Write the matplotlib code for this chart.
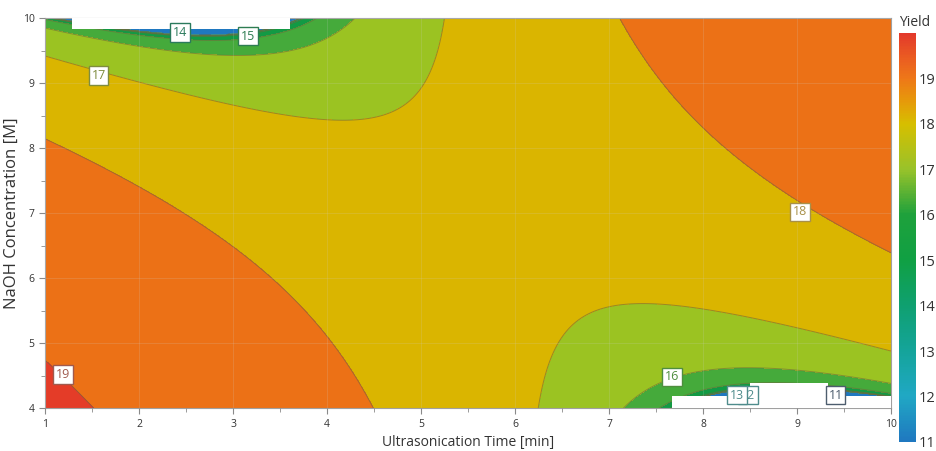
import matplotlib.pyplot as plt
import numpy as np
from matplotlib.cm import ScalarMappable
from matplotlib.colors import LinearSegmentedColormap, Normalize
from matplotlib.patches import Rectangle

plt.rcParams["font.family"] = ["Open Sans", "DejaVu Sans"]

# points (time [min], NaOH [M], yield)
trace_time = [
    1.0, 1.27, 1.55,
    1.0, 1.59, 2.12, 2.83, 3.61, 3.89, 4.17, 4.35, 4.46,
    7.09, 7.36, 7.65, 7.97, 8.47, 9.03, 9.6, 10.0,
    1.0, 1.94, 2.83, 3.36, 3.89, 4.43, 4.78, 5.06, 5.23, 5.35,
    6.15, 6.23, 6.37, 6.59, 6.94, 7.33, 7.83, 8.36, 9.06, 10.0,
    1.0, 2.01, 3.07, 3.79, 4.14, 4.38,
    7.09, 7.44, 7.79, 8.5, 9.21, 10.0,
    1.0, 1.77, 2.54, 3.26, 3.6, 3.85,
    7.86, 8.15, 8.85, 10.0,
    1.8, 2.6, 3.4,
    # colour read at the low corners
    1.0, 3.65, 7.9, 8.2, 10.0, 9.55,
]
trace_naoh = [
    4.85, 4.42, 4.0,
    8.16, 7.72, 7.31, 6.74, 6.02, 5.56, 4.94, 4.43, 4.0,
    10.0, 9.26, 8.64, 8.18, 7.56, 7.05, 6.64, 6.31,
    9.37, 9.03, 8.70, 8.56, 8.47, 8.49, 8.64, 9.01, 9.52, 10.0,
    4.0, 4.58, 5.0, 5.35, 5.56, 5.63, 5.59, 5.40, 5.2, 4.92,
    9.85, 9.57, 9.43, 9.51, 9.72, 10.0,
    4.0, 4.38, 4.55, 4.64, 4.6, 4.43,
    9.95, 9.81, 9.65, 9.63, 9.74, 10.0,
    4.2, 4.31, 4.35, 4.25,
    9.83, 9.8, 9.83,
    10.0, 10.0, 4.19, 4.19, 4.19, 4.22,
]
trace_yield = (
    [19] * 3 + [18] * 9 + [18] * 8 + [17] * 10 + [17] * 10
    + [16] * 6 + [16] * 6 + [15] * 6 + [15] * 4 + [14] * 3
    + [14.5, 14.6, 14.7, 14.2, 14.5, 11.5]
)

levels = [11, 12, 13, 14, 15, 16, 17, 18, 19]
band_colors = [
    "#1f78c0", "#1ca7c6", "#12a3a2", "#0f9e74", "#129a44",
    "#45aa3b", "#9bc322", "#dab500", "#ec7116", "#e43c28",
]

# colour scale of the legend bar
bar_stops = [
    (11.0, "#1f78c0"), (12.0, "#20a8c4"), (13.0, "#14a49a"),
    (14.0, "#0fa070"), (15.0, "#10a043"), (16.0, "#1ea13c"),
    (17.0, "#98c22a"), (18.0, "#d6bf00"), (18.5, "#e69a0a"),
    (19.0, "#ee7818"), (19.5, "#ea5a22"), (20.0, "#e3392b"),
]

label_levels = [19, 18, 17, 16, 15, 14, 12, 13, 11]
label_time = [1.19, 9.03, 1.57, 7.67, 3.16, 2.44, 8.48, 8.36, 9.41]
label_naoh = [4.52, 7.02, 9.12, 4.48, 9.72, 9.78, 4.2, 4.2, 4.2]
label_colors = {
    19: "#a05a4e", 18: "#a89048", 17: "#7e8c3e", 16: "#4f8e3e",
    15: "#2e7d52", 14: "#2a7a5c", 13: "#4f8c8c", 12: "#4f8c8c", 11: "#4d5d6e",
}

# cubic response surface on a power-transformed yield
ref, power = 19.0, 20.0


def terms(a, b):
    a = (np.asarray(a, float) - 5.5) / 4.5
    b = (np.asarray(b, float) - 7.0) / 3.0
    return np.stack([np.ones_like(a), a, b, a * a, a * b, b * b,
                     a ** 3, a * a * b, a * b * b, b ** 3], axis=-1)


resp = (np.asarray(trace_yield, float) / ref) ** power
# low-yield points sit where the transformed scale is flat, so lean on them a bit more
w = 1.0 / (resp + 0.08)
coef, *_ = np.linalg.lstsq(terms(trace_time, trace_naoh) * w[:, None], resp * w, rcond=None)

gx, gy = np.meshgrid(np.linspace(1, 10, 500), np.linspace(4, 10, 360))
surf = terms(gx, gy) @ coef
yield_grid = ref * np.clip(surf, 1e-8, None) ** (1.0 / power)

fig = plt.figure(figsize=(9.37, 4.51), dpi=100)
ax = fig.add_axes([0.048, 0.095, 0.903, 0.865])

ax.contourf(gx, gy, yield_grid, levels=[0] + levels + [40], colors=band_colors)
ax.contour(gx, gy, yield_grid, levels=levels, colors="#6e6a3c", linewidths=0.7, alpha=0.6)

# white blocks left behind by the stacked labels
for x0, y0, bw, bh in [(1.29, 9.83, 2.32, 0.3), (7.67, 3.9, 2.4, 0.28), (8.5, 4.1, 0.83, 0.28)]:
    ax.add_patch(Rectangle((x0, y0), bw, bh, facecolor="white", edgecolor="none", zorder=3))

for lev, lx, ly in zip(label_levels, label_time, label_naoh):
    col = label_colors[lev]
    ax.text(lx, ly, str(lev), ha="center", va="center", fontsize=9, color=col, zorder=5,
            bbox=dict(boxstyle="square,pad=0.22", facecolor="white", edgecolor=col, linewidth=1.0))

ax.set_xlim(1, 10)
ax.set_ylim(4, 10)
ax.set_xticks(range(1, 11))
ax.set_yticks(range(4, 11))
ax.set_xticks(np.arange(1.5, 10, 1), minor=True)
ax.set_yticks(np.arange(4.5, 10, 1), minor=True)
ax.tick_params(which="both", direction="out", color="#8a8a8a", labelsize=7.5, labelcolor="#333333")
ax.tick_params(which="major", length=4)
ax.tick_params(which="minor", length=3)
ax.grid(True, which="major", color="#d0d0d0", alpha=0.2, linewidth=0.6, zorder=4)
ax.set_axisbelow(False)
for sp in ax.spines.values():
    sp.set_color("#a0a0a0")
    sp.set_linewidth(0.8)

ax.set_xlabel("Ultrasonication Time [min]", fontsize=10, color="#333333", labelpad=4)
ax.set_ylabel("NaOH Concentration [M]", fontsize=12, color="#333333", labelpad=2)

cmap = LinearSegmentedColormap.from_list(
    "yield", [((v - 11.0) / 9.0, c) for v, c in bar_stops]
)
cax = fig.add_axes([0.9594, 0.02, 0.0181, 0.907])
cb = fig.colorbar(ScalarMappable(norm=Normalize(11, 20), cmap=cmap), cax=cax, ticks=levels)
cb.outline.set_visible(False)
cb.ax.tick_params(length=0, labelsize=10.5, labelcolor="#333333", pad=2)
cb.ax.set_title("Yield", fontsize=10, color="#333333", loc="left", pad=5)

fig.savefig("out.png", dpi=100)
